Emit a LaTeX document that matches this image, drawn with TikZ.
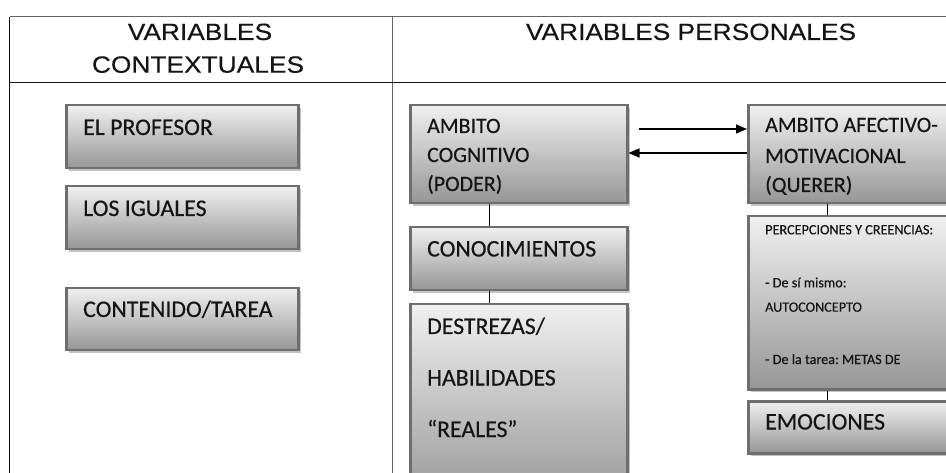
\documentclass[tikz,border=0pt]{standalone}
\usepackage{fontspec}
\setmainfont[FakeBold=0.35]{Carlito}
\newfontfamily\hdrfont[FakeStretch=1.12,FakeBold=0.3]{Liberation Sans}
\usetikzlibrary{arrows.meta,shadows,calc}
\definecolor{boxtop}{RGB}{240,240,240}
\definecolor{boxbot}{RGB}{150,150,150}
\definecolor{boxline}{RGB}{110,110,110}
\definecolor{shadowc}{RGB}{195,195,195}
\definecolor{tablegray}{RGB}{100,100,100}
\definecolor{tabledark}{RGB}{20,20,20}
\definecolor{txt}{RGB}{20,20,20}
\frenchspacing
\begin{document}
\begin{tikzpicture}[x=1pt,y=-1pt,
  box/.style={draw=boxline,line width=2.5pt,top color=boxtop,bottom color=boxbot,
    anchor=north west,inner sep=0pt,
    drop shadow={shadow xshift=3pt,shadow yshift=-3pt,fill=shadowc,opacity=1}},
  hdr/.style={font=\hdrfont\fontsize{23.5}{26}\selectfont,text=txt,anchor=base,inner sep=0pt},
  lbl/.style={font=\fontsize{23.8}{26}\selectfont,text=txt,anchor=base west,inner sep=0pt},
  lblm/.style={font=\fontsize{21.9}{26}\selectfont,text=txt,anchor=base west,inner sep=0pt},
  lbls/.style={font=\fontsize{14.2}{16}\selectfont,text=txt,anchor=base west,inner sep=0pt},
  tline/.style={draw=tablegray,line width=1.3pt},
  tlined/.style={draw=tabledark,line width=1.2pt},
  conn/.style={draw=black,line width=1pt},
  arr/.style={draw=black,line width=1.5pt,-{Triangle[length=11pt,width=9pt]}}]
\useasboundingbox (0,0) rectangle (946,473);
\clip (0,0) rectangle (946,473);
\fill[white] (0,0) rectangle (946,473);
% table
\coordinate (tl) at (9.5,16.7);
\coordinate (tr) at (950,16.7);
\coordinate (bl) at (9.5,480);
\coordinate (dt) at (392.7,16.7);
\coordinate (db) at (392.7,480);
\coordinate (hl) at (9.5,82.7);
\coordinate (hr) at (950,82.7);
\draw[tline] (tl) -- (tr);
\draw[tlined] (tl) -- (bl);
\draw[tline] (dt) -- (db);
\draw[tlined] (hl) -- (hr);
% headers
\node[hdr] (h1) at (200,40) {VARIABLES};
\node[hdr] (h2) at (198,72.7) {CONTEXTUALES};
\node[hdr] (h3) at (691,40) {VARIABLES PERSONALES};
% left boxes
\node[box,minimum width=232pt,minimum height=63pt] (prof) at (65,104) {};
\node[box,minimum width=232pt,minimum height=63pt] (igu) at (65,185) {};
\node[box,minimum width=232pt,minimum height=62pt] (cont) at (65,287) {};
\node[lbl] (tprof) at (83,135) {EL PROFESOR};
\node[lbl] (tigu) at (83,216) {LOS IGUALES};
\node[lbl] (tcont) at (83,317) {CONTENIDO/TAREA};
% cognitive column
\node[box,minimum width=217pt,minimum height=98pt] (cog) at (409,104) {};
\node[box,minimum width=217pt,minimum height=63pt] (conoc) at (409,226) {};
\node[box,minimum width=217pt,minimum height=200pt] (destr) at (409,303) {};
\node[lblm] (tcog1) at (427,133) {AMBITO};
\node[lblm] (tcog2) at (427,162) {COGNITIVO};
\node[lblm] (tcog3) at (427,191) {(PODER)};
\node[lbl] (tconoc) at (427,256.5) {CONOCIMIENTOS};
\node[lbl] (td1) at (427,334) {DESTREZAS/};
\node[lbl] (td2) at (427,385.5) {HABILIDADES};
\node[lbl] (td3) at (427,437) {“REALES”};
% affective column
\node[box,minimum width=220pt,minimum height=98pt] (afe) at (747,104) {};
\node[box,minimum width=220pt,minimum height=173pt] (perc) at (747,215) {};
\node[box,minimum width=220pt,minimum height=52pt] (emo) at (747,400) {};
\node[lblm] (tafe1) at (765,132) {AMBITO AFECTIVO-};
\node[lblm] (tafe2) at (765,163) {MOTIVACIONAL};
\node[lblm] (tafe3) at (765,192) {(QUERER)};
\node[lbls] (tp1) at (765,234.3) {PERCEPCIONES Y CREENCIAS:};
\node[lbls] (tp2) at (765,287.3) {- De sí mismo:};
\node[lbls] (tp3) at (765,311.7) {AUTOCONCEPTO};
\node[lbls] (tp4) at (765,364) {- De la tarea: METAS DE};
\node[lbl] (temo) at (765,429.5) {EMOCIONES};
% connectors
\coordinate (cx) at (489,0);
\coordinate (ax) at (827,0);
\draw[conn] (cog.south -| cx) -- (conoc.north -| cx);
\draw[conn] (conoc.south -| cx) -- (destr.north -| cx);
\draw[conn] (afe.south -| ax) -- (perc.north -| ax);
\draw[conn] (perc.south -| ax) -- (emo.north -| ax);
% arrows
\coordinate (y1) at (0,129);
\coordinate (y2) at (0,153);
\draw[arr] ([xshift=10pt]cog.east |- y1) -- (afe.west |- y1);
\draw[arr] (afe.west |- y2) -- (cog.east |- y2);
\end{tikzpicture}
\end{document}
